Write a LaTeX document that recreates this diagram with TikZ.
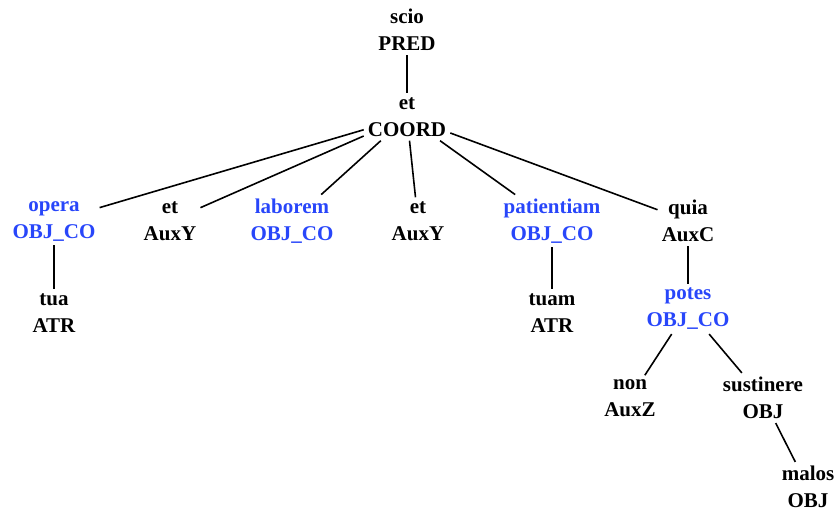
\documentclass[tikz,border=0pt]{standalone}
\usepackage{fontspec}
\setmainfont{Liberation Serif}
\usepackage{xcolor}
\definecolor{treeblue}{RGB}{40,70,250}

\begin{document}
\begin{tikzpicture}[
    x=1pt, y=-1pt,
    word/.style={align=center, inner sep=4pt,
                 font=\fontsize{21}{27}\selectfont\bfseries},
    coword/.style={word, text=treeblue},
    dep/.style={line width=1.6pt}
]
\useasboundingbox (0,0) rectangle (835,515);

% Root and coordination
\node[word] (scio) at (407,30) {scio\\PRED};
\node[word] (coord) at (407,117) {et\\COORD};

% Conjuncts and auxiliaries
\node[coword] (opera) at (54,221) {opera\\OBJ\_CO};
\node[word] (etA) at (170,221) {et\\AuxY};
\node[coword] (laborem) at (292,221) {laborem\\OBJ\_CO};
\node[word] (etB) at (418,221) {et\\AuxY};
\node[coword] (patientiam) at (552,221) {patientiam\\OBJ\_CO};
\node[word] (quia) at (688,221) {quia\\AuxC};

% Lower levels
\node[word] (tua) at (54,313) {tua\\ATR};
\node[word] (tuam) at (552,313) {tuam\\ATR};
\node[coword] (potes) at (688,309) {potes\\OBJ\_CO};
\node[word] (non) at (630,398) {non\\AuxZ};
\node[word] (sustinere) at (763,398) {sustinere\\OBJ};
\node[word] (malos) at (808,487) {malos\\OBJ};

% Dependencies
\draw[dep] (scio) -- (coord);
\foreach \child in {opera,etA,laborem,etB,patientiam,quia}
    \draw[dep] (coord) -- (\child);
\draw[dep] (opera) -- (tua);
\draw[dep] (patientiam) -- (tuam);
\draw[dep] (quia) -- (potes);
\draw[dep] (potes) -- (non);
\draw[dep] (potes) -- (sustinere);
\draw[dep] (sustinere) -- (malos);

\end{tikzpicture}
\end{document}
